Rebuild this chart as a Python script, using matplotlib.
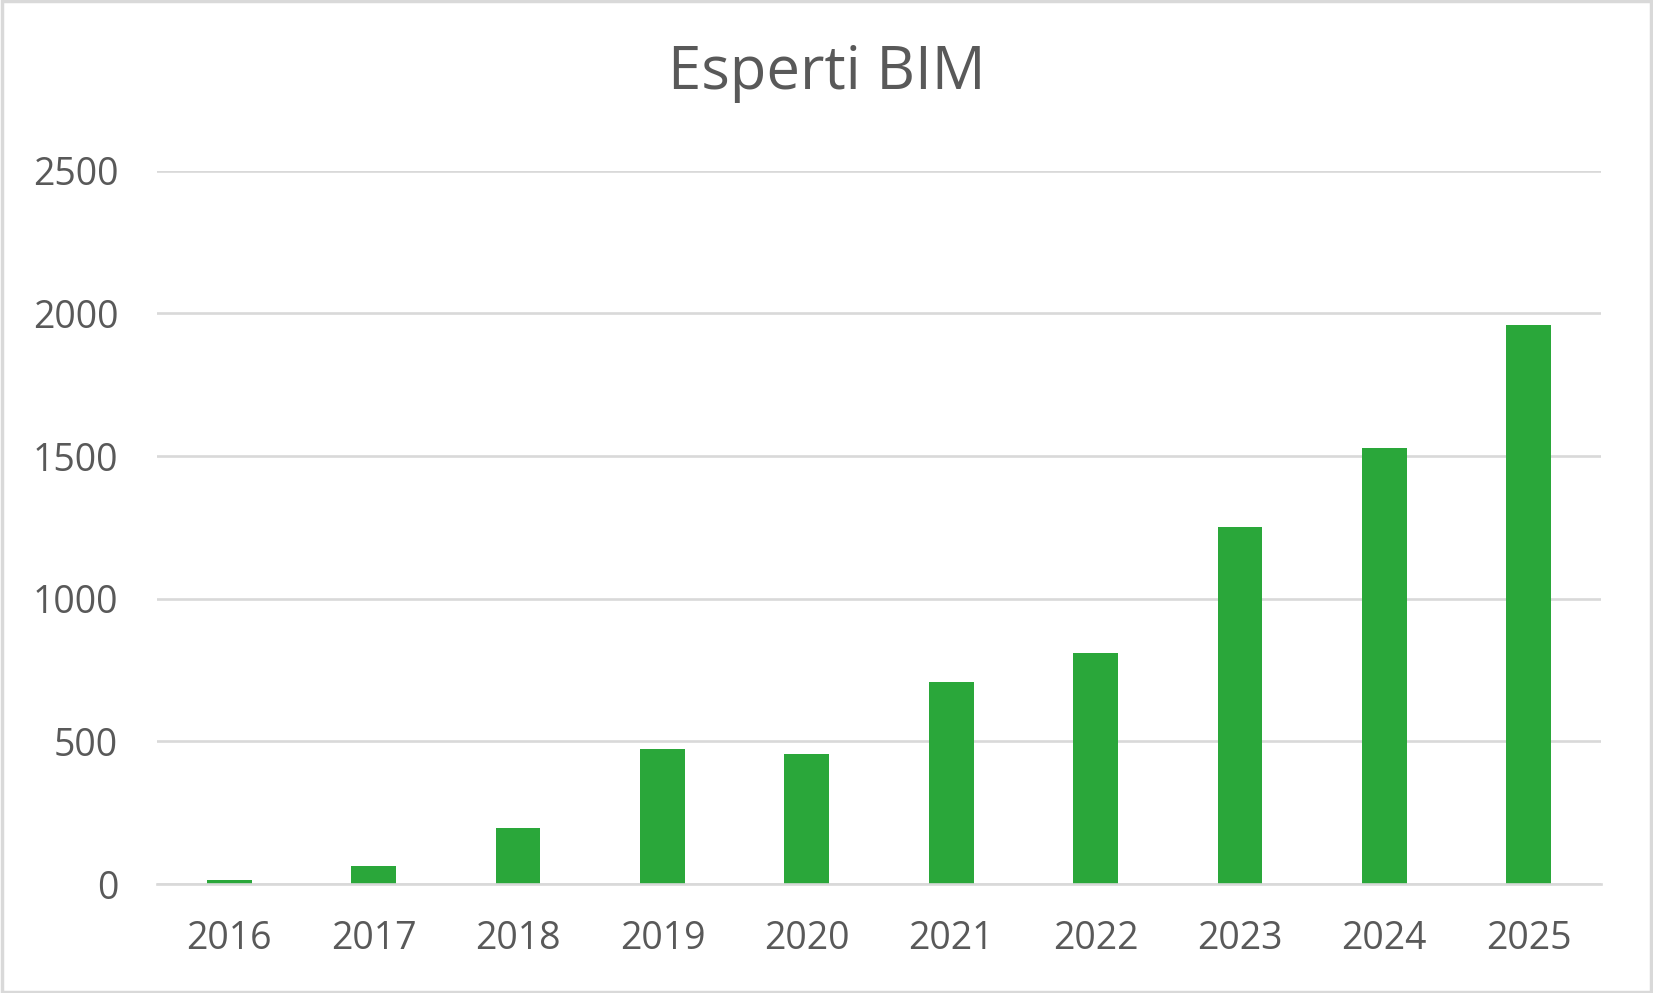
import matplotlib.pyplot as plt
from matplotlib.patches import Rectangle

# dati
anni = ["2016", "2017", "2018", "2019", "2020", "2021", "2022", "2023", "2024", "2025"]
esperti = [14, 64, 197, 474, 456, 709, 810, 1252, 1529, 1960]
y_ticks = [0, 500, 1000, 1500, 2000, 2500]

plt.rcParams['font.family'] = ['Open Sans', 'DejaVu Sans']
grigio_testo = "#595959"
grigio_linee = "#D9D9D9"

fig = plt.figure(figsize=(16.53, 9.93), dpi=100)
ax = fig.add_axes([0.095, 0.1096, 0.8735, 0.7184])

x = range(len(anni))
ax.bar(x, esperti, width=0.31, color="#2AA73A", zorder=3)

ax.set_xlim(-0.5, len(anni) - 0.5)
ax.set_ylim(0, 2500)
ax.set_yticks(y_ticks)
ax.set_yticklabels([str(v) for v in y_ticks])
ax.set_xticks(list(x))
ax.set_xticklabels(anni)

ax.yaxis.grid(True, color=grigio_linee, linewidth=1.9, zorder=0)
ax.tick_params(axis="both", length=0, labelsize=27, labelcolor=grigio_testo)
ax.tick_params(axis="y", pad=28)
ax.tick_params(axis="x", pad=26)
for lato in ["top", "right", "left"]:
    ax.spines[lato].set_visible(False)
ax.spines["bottom"].set_color(grigio_linee)
ax.spines["bottom"].set_linewidth(1.9)
ax.spines["bottom"].set_zorder(4)

fig.text(0.5, 0.926, "Esperti BIM", ha="center", va="center",
         fontsize=43, color=grigio_testo)

# cornice del grafico
fig.patches.append(Rectangle((0.001, 0.001), 0.998, 0.998, transform=fig.transFigure,
                             fill=False, edgecolor=grigio_linee, linewidth=2.5))

fig.savefig("out.png", dpi=100)
